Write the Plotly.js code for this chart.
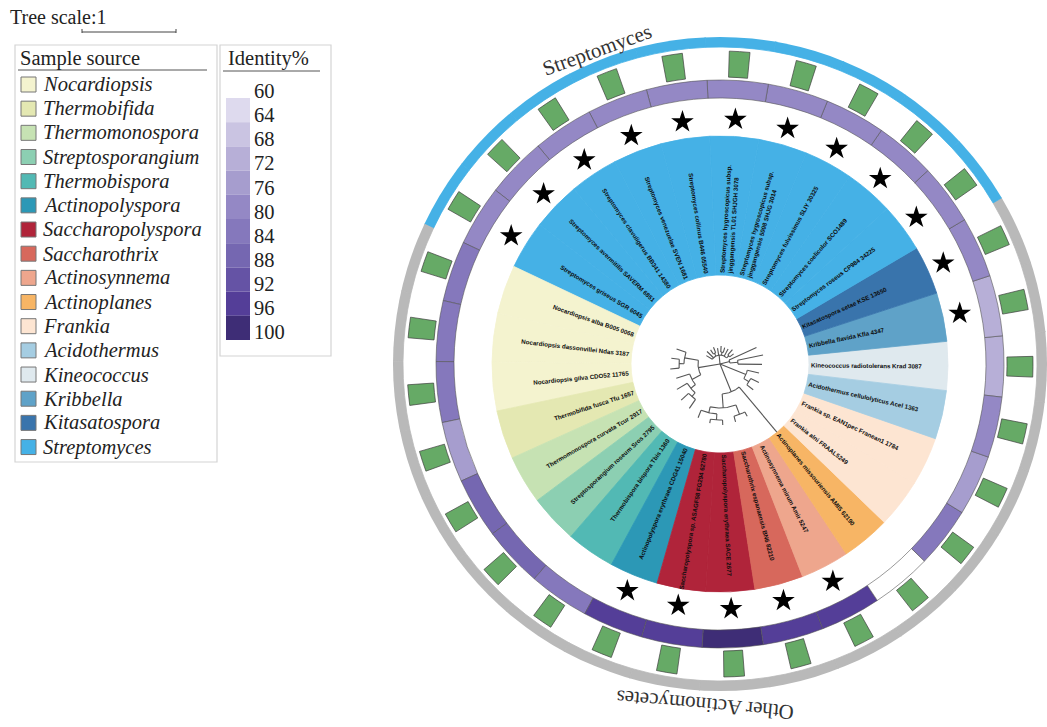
<!DOCTYPE html>
<html><head><meta charset="utf-8">
<script src="https://cdn.plot.ly/plotly-3.0.1.min.js"></script>
<style>html,body{margin:0;padding:0;background:#fff;}#chart{width:1047px;height:727px;}</style>
</head><body><div id="chart"></div>
<script>
// ---------- DATA ----------
const leafNames = [
  "Kineococcus radiotolerans Krad 3087",
  "Kribbella flavida Kfla 4347",
  "Kitasatospora setae KSE 13650",
  "Streptomyces roseus CP984 34225",
  "Streptomyces coelicolor SCO1489",
  "Streptomyces fulvissimus SLIY 30325",
  "Streptomyces hygroscopicus subsp.<br>jinggangensis 5008 SHJG 3014",
  "Streptomyces hygroscopicus subsp.<br>jinggangensis TL01 SHJGH 3078",
  "Streptomyces collinus B446 05540",
  "Streptomyces venezuelae SVEN 1681",
  "Streptomyces clavuligerus BB341 14380",
  "Streptomyces avermitilis SAVERM 6851",
  "Streptomyces griseus SGR 6045",
  "Nocardiopsis alba B005 0068",
  "Nocardiopsis dassonvillei Ndas 3187",
  "Nocardiopsis gilva CDO52 11765",
  "Thermobifida fusca Tfu 1657",
  "Thermomonospora curvata Tcur 2917",
  "Streptosporangium roseum Sros 2795",
  "Thermobispora bispora Tbis 1360",
  "Actinopolyspora erythraea CDG41 15040",
  "Saccharopolyspora sp. ASAGF58 FG294 62780",
  "Saccharopolyspora erythraea SACE 2677",
  "Saccharothrix espanaensis BN6 82210",
  "Actinosynnema mirum Amir 5247",
  "Actinoplanes missouriensis AMIS 62190",
  "Frankia alni FRAAL5249",
  "Frankia sp. EAN1pec Franean1 1784",
  "Acidothermus cellulolyticus Acel 1363"
];
const leafGenus = [
  "Kineococcus","Kribbella","Kitasatospora",
  "Streptomyces","Streptomyces","Streptomyces","Streptomyces","Streptomyces",
  "Streptomyces","Streptomyces","Streptomyces","Streptomyces","Streptomyces",
  "Nocardiopsis","Nocardiopsis","Nocardiopsis","Thermobifida","Thermomonospora",
  "Streptosporangium","Thermobispora","Actinopolyspora","Saccharopolyspora",
  "Saccharopolyspora","Saccharothrix","Actinosynnema","Actinoplanes",
  "Frankia","Frankia","Acidothermus"
];
const identityPct = [70,70,78,79,79,79,79,79,79,79,79,79,78,82,81,81,75,86,85,81,94,95,99,95,94,null,80,75,78];
const starFlag    = [0,1,1,1,1,1,1,1,1,1,1,1,1,0,0,0,0,0,0,0,1,1,1,1,1,0,0,0,0];
const groupNames  = ["Streptomyces","Other Actinomycetes"];
const groupColors = ["#45b1e6","#b9b9b9"];

const genusNames = ["Nocardiopsis","Thermobifida","Thermomonospora","Streptosporangium","Thermobispora",
  "Actinopolyspora","Saccharopolyspora","Saccharothrix","Actinosynnema","Actinoplanes","Frankia",
  "Acidothermus","Kineococcus","Kribbella","Kitasatospora","Streptomyces"];
const genusColors = ["#f4f3cf","#e4e8b2","#c6e2b3","#8ccfb2","#52b9b4","#2c98b6","#b0243a","#d7685c",
  "#eea68d","#f7b565","#fde5d2","#a5cde2","#dfe9ee","#5fa2c8","#3974ac","#45b1e6"];

const identityTicks  = [60,64,68,72,76,80,84,88,92,96,100];
const identityColors = ["#dedaee","#cac4e2","#b7afd7","#a69dce","#9488c5","#8578bc","#7567b1","#6553a5","#543e98","#3e2d76"];

// tree (leaf indices, branch lengths)
const treeNewick = "(((0:24,1:26):8,2:30):10,((3:5,4:7):3,5:8,(6:5,7:6):3,8:7,(9:6,10:5):3,11:9,12:7):9,((13:10,(14:8,15:9):5):14,(16:14,(17:12,(18:10,19:11):5):6):10):22,(((20:8,(21:4,22:5):6):6,(23:6,24:5):10):14,25:61):30,((26:8,27:9):6,28:12):28);";

// ---------- GEOMETRY ----------
const W = 1047, H = 727, CX = 720, CY = 364, RMAX = 327;
const N = leafNames.length, step = 360 / N, angle0 = -0.5;
const theta = leafNames.map((_, i) => angle0 + i * step);
const rad = d => d * Math.PI / 180;
const px = x => x / W, py = y => 1 - y / H;

function idColor(v){ if (v === null) return "#ffffff"; const k = Math.min(9, Math.max(0, Math.floor((v - 60) / 4))); return identityColors[k]; }

// parse newick
function parseNewick(s){
  let i = 0;
  function node(){
    const n = {children: [], len: 0, leaf: null};
    if (s[i] === '('){
      i++;
      n.children.push(node());
      while (s[i] === ','){ i++; n.children.push(node()); }
      i++;
    } else {
      let t = ''; while (/[0-9]/.test(s[i])) t += s[i++];
      n.leaf = parseInt(t);
    }
    if (s[i] === ':'){ i++; let t = ''; while (/[0-9.]/.test(s[i])) t += s[i++]; n.len = parseFloat(t); }
    return n;
  }
  return node();
}
const tree = parseNewick(treeNewick);
const tx = [], ty = [];
function layoutTree(n, r0){
  n.r = r0 + n.len;
  if (n.leaf !== null){ n.a = theta[n.leaf]; return; }
  n.children.forEach(c => layoutTree(c, n.r));
  n.a = (n.children[0].a + n.children[n.children.length - 1].a) / 2;
}
layoutTree(tree, 0);
function drawTree(n){
  if (n.leaf !== null) return;
  const a1 = n.children[0].a, a2 = n.children[n.children.length - 1].a;
  if (n.r > 0){
    for (let a = a1; a < a2; a += 1){ tx.push(n.r * Math.cos(rad(a))); ty.push(n.r * Math.sin(rad(a))); }
    tx.push(n.r * Math.cos(rad(a2)), null); ty.push(n.r * Math.sin(rad(a2)), null);
  }
  n.children.forEach(c => {
    tx.push(n.r * Math.cos(rad(c.a)), c.r * Math.cos(rad(c.a)), null);
    ty.push(n.r * Math.sin(rad(c.a)), c.r * Math.sin(rad(c.a)), null);
    drawTree(c);
  });
}
drawTree(tree);

// ---------- TRACES ----------
const sectorColors = leafGenus.map(g => genusColors[genusNames.indexOf(g)]);
const bandColors = leafGenus.map(g => g === "Streptomyces" ? groupColors[0] : groupColors[1]);
const traces = [];
traces.push({type:'barpolar', theta: theta, r: theta.map(() => 139), base: 89, width: step,
  marker:{color: sectorColors, line:{color: sectorColors, width:0.8}}, hoverinfo:'skip', showlegend:false});
traces.push({type:'barpolar', theta: theta, r: theta.map(() => 18), base: 266, width: step,
  marker:{color: identityPct.map(idColor), line:{color:'#555', width:0.6}}, hoverinfo:'skip', showlegend:false});
traces.push({type:'scatterpolar', mode:'markers', theta: theta.filter((_, i) => starFlag[i]), r: theta.filter((_, i) => starFlag[i]).map(() => 245),
  marker:{symbol:'star', size:17, color:'#000'}, hoverinfo:'skip', showlegend:false});
traces.push({type:'barpolar', theta: theta, r: theta.map(() => 26), base: 287, width: 3.8,
  marker:{color:'#66aa66', line:{color:'#3f3f3f', width:0.7}}, hoverinfo:'skip', showlegend:false});
traces.push({type:'barpolar', theta: theta, r: theta.map(() => 14), base: 317, width: step,
  marker:{color: bandColors, line:{color: bandColors, width:0.8}}, hoverinfo:'skip', showlegend:false});
traces.push({type:'scatter', mode:'lines', x: tx, y: ty, xaxis:'x', yaxis:'y', line:{color:'#555', width:1.1}, hoverinfo:'skip', showlegend:false, connectgaps:false});

// ---------- ANNOTATIONS ----------
const ann = [], shapes = [];
const LABEL_SIZE = 6.2;
const ctx = document.createElement('canvas').getContext('2d');
ctx.font = 'bold ' + LABEL_SIZE + 'px "Liberation Sans"';
leafNames.forEach((name, i) => {
  const a = theta[i];
  const w = Math.max(...name.split('<br>').map(l => ctx.measureText(l).width));
  const rc = 91 + w / 2;
  const right = Math.cos(rad(a)) >= 0;
  let ta = right ? -a : 180 - a;
  while (ta > 180) ta -= 360; while (ta < -180) ta += 360;
  ann.push({xref:'x', yref:'y', x: rc * Math.cos(rad(a)), y: rc * Math.sin(rad(a)), text: '<b>' + name + '</b>',
    showarrow:false, textangle: ta, xanchor:'center', yanchor:'middle', align: right ? 'left' : 'right',
    font:{family:'Liberation Sans, Arial', size: LABEL_SIZE, color:'#0d0d0d'}, borderpad:0});
});
const serif = 'Liberation Serif, Times New Roman';
// group labels
ann.push({xref:'paper', yref:'paper', x: px(597), y: py(50), text: groupNames[0], showarrow:false, textangle:-20,
  font:{family: serif, size:21, color:'#333'}, xanchor:'center', yanchor:'middle'});
ann.push({xref:'paper', yref:'paper', x: px(705), y: py(705), text: groupNames[1], showarrow:false, textangle:-175,
  font:{family: serif, size:21, color:'#333'}, xanchor:'center', yanchor:'middle'});

// tree scale
ann.push({xref:'paper', yref:'paper', x: px(8), y: py(17), text:'Tree scale:1', showarrow:false, xanchor:'left', yanchor:'middle',
  font:{family: serif, size:20, color:'#222'}});
shapes.push({type:'line', xref:'paper', yref:'paper', x0:px(82), x1:px(176), y0:py(32), y1:py(32), line:{color:'#444', width:1}});
shapes.push({type:'line', xref:'paper', yref:'paper', x0:px(82), x1:px(82), y0:py(29), y1:py(33), line:{color:'#444', width:1}});
shapes.push({type:'line', xref:'paper', yref:'paper', x0:px(176), x1:px(176), y0:py(29), y1:py(33), line:{color:'#444', width:1}});

// sample source legend
shapes.push({type:'rect', xref:'paper', yref:'paper', x0:px(15), x1:px(217), y0:py(45), y1:py(462), line:{color:'#d4d4d4', width:1.2}, fillcolor:'rgba(0,0,0,0)'});
ann.push({xref:'paper', yref:'paper', x: px(18), y: py(59), text:'Sample source', showarrow:false, xanchor:'left', yanchor:'middle',
  font:{family: serif, size:20.5, color:'#222'}});
shapes.push({type:'line', xref:'paper', yref:'paper', x0:px(18), x1:px(207), y0:py(70), y1:py(70), line:{color:'#555', width:1}});
genusNames.forEach((g, k) => {
  const yc = 84.5 + 24.17 * k;
  shapes.push({type:'rect', xref:'paper', yref:'paper', x0:px(21), x1:px(36), y0:py(yc - 7.5), y1:py(yc + 7.5),
    fillcolor: genusColors[k], line:{color:'#777', width:1}});
  ann.push({xref:'paper', yref:'paper', x: px(41), y: py(yc), text:'<i>' + g + '</i>', showarrow:false, xanchor:'left', yanchor:'middle',
    font:{family: serif, size:20.5, color:'#222'}});
});

// identity legend
shapes.push({type:'rect', xref:'paper', yref:'paper', x0:px(220), x1:px(331), y0:py(45), y1:py(356), line:{color:'#d4d4d4', width:1.2}, fillcolor:'rgba(0,0,0,0)'});
ann.push({xref:'paper', yref:'paper', x: px(226), y: py(59), text:'Identity%', showarrow:false, xanchor:'left', yanchor:'middle',
  font:{family: serif, size:20.5, color:'#222'}});
shapes.push({type:'line', xref:'paper', yref:'paper', x0:px(223), x1:px(320), y0:py(71), y1:py(71), line:{color:'#555', width:1}});
identityColors.forEach((c, k) => {
  shapes.push({type:'rect', xref:'paper', yref:'paper', x0:px(226), x1:px(250), y0:py(98 + 24.2 * k), y1:py(98 + 24.2 * (k + 1)),
    fillcolor: c, line:{width:0}});
});
identityTicks.forEach((t, k) => {
  ann.push({xref:'paper', yref:'paper', x: px(252), y: py(91 + 24.15 * k), text: String(t), showarrow:false, xanchor:'left', yanchor:'middle',
    font:{family: serif, size:20.5, color:'#222'}});
});

const layoutObj = {
  width: W, height: H, margin:{l:0, r:0, t:0, b:0}, paper_bgcolor:'#fff', plot_bgcolor:'rgba(0,0,0,0)', showlegend:false,
  xaxis:{domain:[0,1], range:[-CX, W - CX], visible:false, fixedrange:true},
  yaxis:{domain:[0,1], range:[-(H - CY), CY], visible:false, fixedrange:true},
  polar:{domain:{x:[(CX - RMAX) / W, 1], y:[py(CY + RMAX), py(CY - RMAX)]}, bgcolor:'rgba(0,0,0,0)', bargap:0,
    radialaxis:{range:[0, RMAX], visible:false}, angularaxis:{visible:false, rotation:0, direction:'counterclockwise'}},
  annotations: ann, shapes: shapes
};
Plotly.newPlot('chart', traces, layoutObj, {displayModeBar:false, staticPlot:true});
</script></body></html>
